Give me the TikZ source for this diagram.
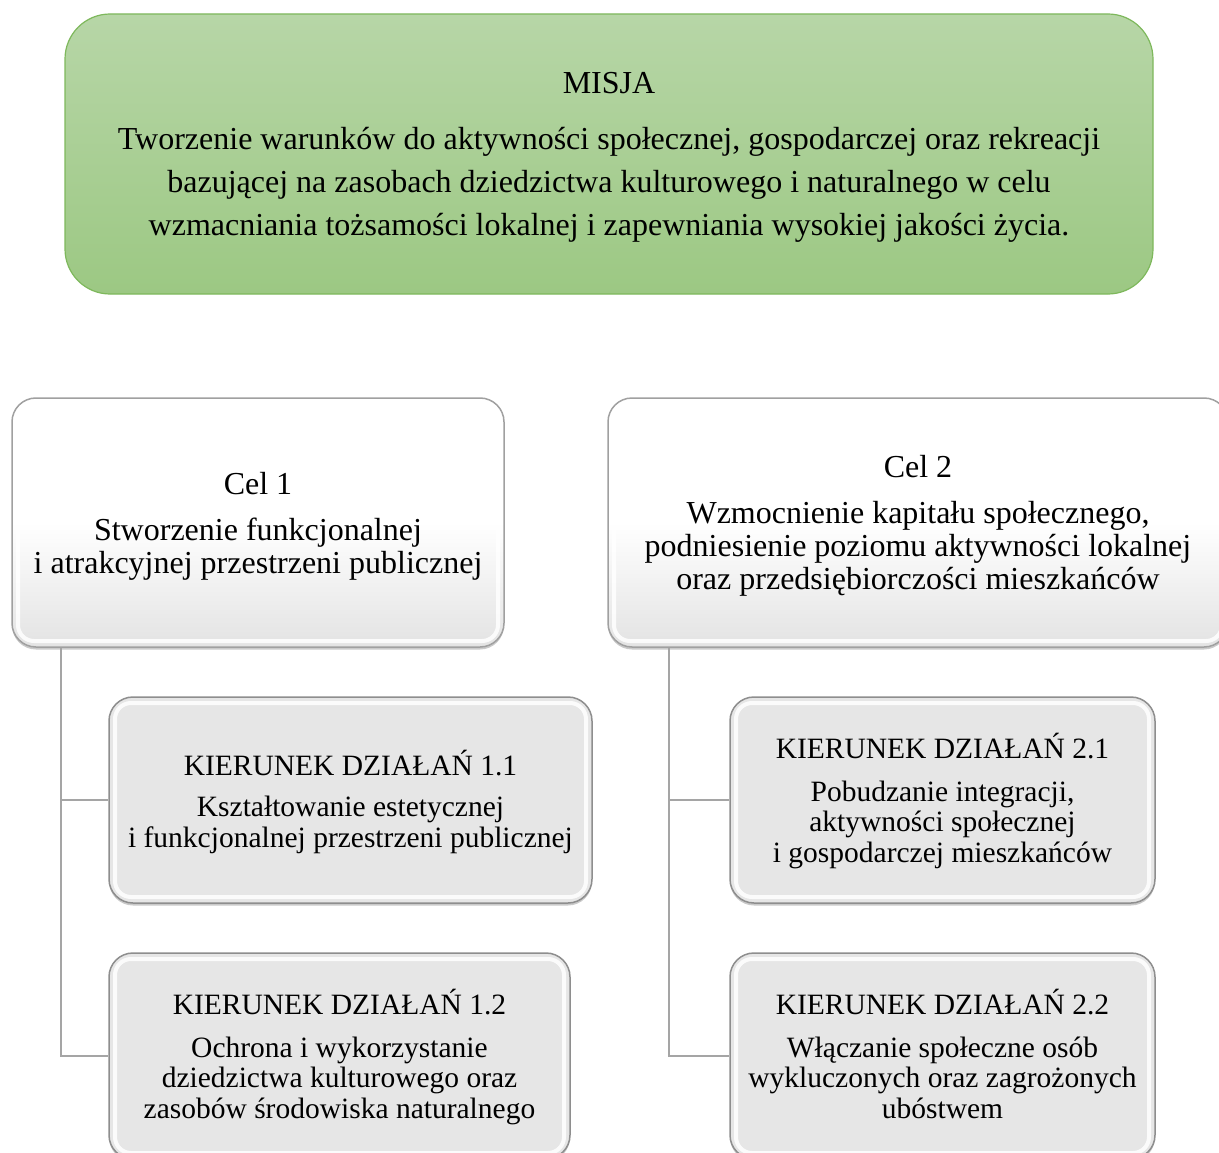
\documentclass[tikz,border=0pt]{standalone}
\usepackage{fontspec}
\setmainfont{Liberation Serif}
\usetikzlibrary{shadows}
\definecolor{misjatop}{HTML}{B7D6A7}
\definecolor{misjabot}{HTML}{9CC883}
\definecolor{misjaedge}{HTML}{7EB85C}
\definecolor{linkgray}{HTML}{A5A5A5}
\definecolor{celedge}{HTML}{A0A0A0}
\definecolor{kdfill}{HTML}{E6E6E6}
\definecolor{kdedge}{HTML}{8E8E8E}
\tikzset{
  misjabox/.style={rectangle, rounded corners=45pt, draw=misjaedge, line width=1.2pt,
    top color=misjatop, bottom color=misjabot, inner sep=0pt},
  bevel/.style={path picture={\draw[white, line width=4pt, opacity=0.85, rounded corners=16pt]
      ([shift={(6pt,-6pt)}]path picture bounding box.north west) rectangle
      ([shift={(-6pt,6pt)}]path picture bounding box.south east);}},
  celbox/.style={rectangle, rounded corners=24pt, draw=celedge, line width=1.5pt,
    top color=white, bottom color=black!11, middle color=white, inner sep=0pt,
    drop shadow={shadow xshift=0pt, shadow yshift=-2.5pt, opacity=0.35, fill=black!60},
    bevel},
  kdbox/.style={rectangle, rounded corners=24pt, draw=kdedge, line width=1.5pt,
    fill=kdfill, inner sep=0pt,
    drop shadow={shadow xshift=0pt, shadow yshift=-2.5pt, opacity=0.35, fill=black!60},
    bevel},
  misjatext/.style={align=center, inner sep=0pt, font=\fontsize{32}{43}\selectfont},
  celtext/.style={align=center, inner sep=0pt, font=\fontsize{32}{33}\selectfont},
  kdtext/.style={align=center, inner sep=0pt, font=\fontsize{29.5}{30.5}\selectfont},
  link/.style={draw=linkgray, line width=2.2pt}
}
\begin{document}
\begin{tikzpicture}[x=1pt, y=-1pt]
\useasboundingbox (0,0) rectangle (1219,1153);
\node[misjabox, minimum width=1088pt, minimum height=280pt] (misja) at (609,154) {};
\node[misjatext] (misjat) at ([yshift=-3pt]misja.center)
  {MISJA\\[13pt]
   Tworzenie warunków do aktywności społecznej, gospodarczej oraz rekreacji\\
   bazującej na zasobach dziedzictwa kulturowego i naturalnego w celu\\
   wzmacniania tożsamości lokalnej i zapewniania wysokiej jakości życia.};

\node[celbox, minimum width=492pt, minimum height=249pt] (cel1) at (258,522.5) {};
\node[celtext] (cel1t) at ([yshift=-4pt]cel1.center)
  {Cel 1\\[13pt]
   Stworzenie funkcjonalnej\\
   i atrakcyjnej przestrzeni publicznej};
\node[celbox, minimum width=620pt, minimum height=249pt] (cel2) at (918,522.5) {};
\node[celtext] (cel2t) at ([yshift=-3.5pt]cel2.center)
  {Cel 2\\[13pt]
   Wzmocnienie kapitału społecznego,\\
   podniesienie poziomu aktywności lokalnej\\
   oraz przedsiębiorczości mieszkańców};

\node[kdbox, minimum width=483pt, minimum height=206pt] (kd11) at (350.5,800) {};
\node[kdtext] (kd11t) at ([yshift=-1.5pt]kd11.center)
  {KIERUNEK DZIAŁAŃ 1.1\\[11pt]
   Kształtowanie estetycznej\\
   i funkcjonalnej przestrzeni publicznej};
\node[kdbox, minimum width=461pt, minimum height=206pt] (kd12) at (339.5,1056) {};
\node[kdtext] (kd12t) at ([yshift=-1pt]kd12.center)
  {KIERUNEK DZIAŁAŃ 1.2\\[12pt]
   Ochrona i wykorzystanie\\
   dziedzictwa kulturowego oraz\\
   zasobów środowiska naturalnego};
\node[kdbox, minimum width=425pt, minimum height=206pt] (kd21) at (942.5,800) {};
\node[kdtext] (kd21t) at ([yshift=-1pt]kd21.center)
  {KIERUNEK DZIAŁAŃ 2.1\\[12pt]
   Pobudzanie integracji,\\
   aktywności społecznej\\
   i gospodarczej mieszkańców};
\node[kdbox, minimum width=425pt, minimum height=206pt] (kd22) at (942.5,1056) {};
\node[kdtext] (kd22t) at ([yshift=-1pt]kd22.center)
  {KIERUNEK DZIAŁAŃ 2.2\\[12pt]
   Włączanie społeczne osób\\
   wykluczonych oraz zagrożonych\\
   ubóstwem\vphantom{y}};

\coordinate (t1) at (61,647.5);
\coordinate (t2) at (669,647.5);
\draw[link] (t1) |- (kd11.west);
\draw[link] (t1) |- (kd12.west);
\draw[link] (t2) |- (kd21.west);
\draw[link] (t2) |- (kd22.west);
\end{tikzpicture}
\end{document}
